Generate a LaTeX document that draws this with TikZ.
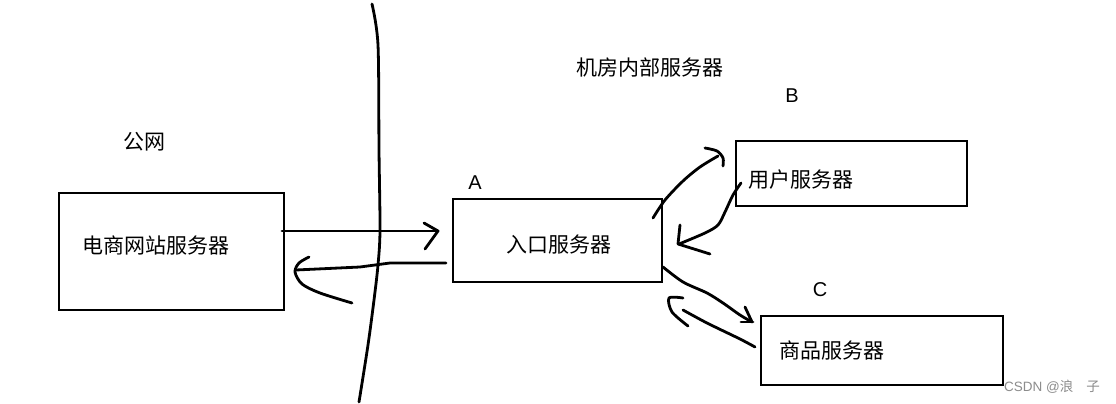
\documentclass[tikz,border=0pt]{standalone}
\usepackage{fontspec}
\setmainfont{Liberation Sans}
\newfontfamily\cjk{Noto Sans CJK SC}
\begin{document}
\begin{tikzpicture}[x=1pt,y=-1pt,
  hand/.style={line width=2.8pt,line cap=round,line join=round,black},
  srvbox/.style={draw,line width=2.8pt,inner sep=0pt},
  cjktxt/.style={inner sep=0pt,font=\cjk\fontsize{21}{24}\selectfont},
  lettxt/.style={inner sep=0pt,font=\fontsize{20}{24}\selectfont},
  wm/.style={inner sep=0pt,text=black!45,font=\fontsize{13.5}{16}\selectfont}]
\useasboundingbox[fill=white] (0,0) rectangle (1116,404);
% boundary curve
\draw[hand] plot[smooth] coordinates {(372,4) (378,45) (379,150) (380,230) (378,265) (374,300) (368,345) (359,402)};
% boxes
\node[srvbox,minimum width=225pt,minimum height=117pt] (web) at (171.5,251.5) {};
\node[srvbox,minimum width=209pt,minimum height=83pt] (entry) at (557.5,240.5) {};
\node[srvbox,minimum width=231pt,minimum height=65pt] (user) at (851.5,173.5) {};
\node[srvbox,minimum width=242pt,minimum height=69pt] (goods) at (882,350.5) {};
% texts
\node[cjktxt,anchor=west] (tweb) at (82,245) {电商网站服务器};
\node[cjktxt,anchor=west] (tentry) at (506,245) {入口服务器};
\node[cjktxt,anchor=west] (tuser) at (748,180) {用户服务器};
\node[cjktxt,anchor=west] (tgoods) at (779,350) {商品服务器};
\node[cjktxt] (pub) at (144,142) {公网};
\node[cjktxt] (room) at (650,67) {机房内部服务器};
\node[lettxt] (la) at (475,183) {A};
\node[lettxt] (lb) at (792,96) {B};
\node[lettxt] (lc) at (820,290) {C};
\node[wm,anchor=east] (mark) at (1100,387) {CSDN @{\cjk 浪\hspace{13pt}子}};
% web -> entry
\coordinate (p1s) at (282,231);
\coordinate (p1e) at (438,231);
\draw[hand] (p1s) -- (p1e);
\draw[hand] (424,223) -- (p1e) -- (425,249);
% entry -> web
\coordinate (p2s) at (446,263);
\coordinate (p2e) at (296,270);
\draw[hand] (p2s) -- (390,263) -- (360,267) -- (p2e);
\draw[hand] plot[smooth] coordinates {(309,257) (299,263) (295,272) (302,284) (320,293) (352,303)};
% entry -> user
\draw[hand] plot[smooth] coordinates {(653,218) (665,200) (683,181) (700,167) (718,156)};
\draw[hand] plot[smooth] coordinates {(705,148) (717,151) (723,158) (723,166)};
% user -> entry
\draw[hand] plot[smooth] coordinates {(741,183) (733,195) (725,212) (718,225) (705,233) (679,244)};
\draw[hand] (680,225) -- (678,244) -- (710,254);
% entry -> goods
\draw[hand] plot[smooth] coordinates {(663,267) (683,282) (707,293) (723,303) (740,315) (752,322)};
\draw[hand] (745,307) -- (752,322);
\draw[hand] (741,322) -- (753,322);
% goods -> entry
\draw[hand] plot[smooth] coordinates {(755,347) (740,339) (707,323) (683,310)};
\draw[hand] plot[smooth] coordinates {(683,298) (669,298) (672,312) (688,326)};
\end{tikzpicture}
\end{document}
